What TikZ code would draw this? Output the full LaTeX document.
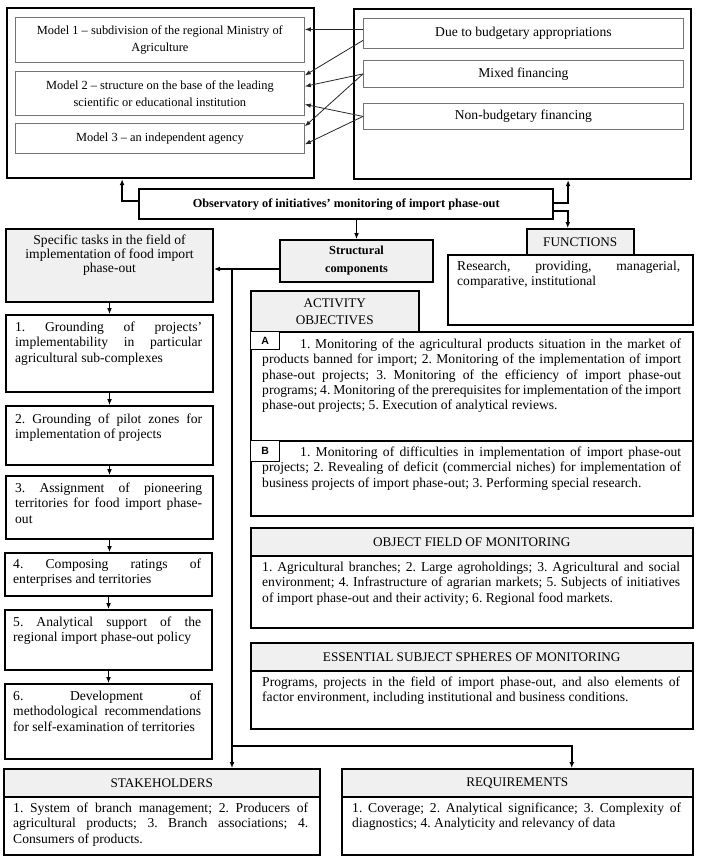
\documentclass[tikz,border=0pt]{standalone}
\usepackage{fontspec}
\setmainfont{Liberation Serif}
\newfontfamily\labfont{Liberation Sans}
\usetikzlibrary{arrows.meta}
\frenchspacing
\definecolor{hgray}{RGB}{240,240,240}
\newcommand\bodyf{\fontsize{13.6}{15.2}\selectfont\frenchspacing\parindent=0pt\hyphenpenalty=10000\exhyphenpenalty=10000\relax}
\newcommand\thf{\fontsize{13.6}{13.7}\selectfont}
\newcommand\hdrf{\fontsize{13.2}{17}\selectfont}
\newcommand\modf{\fontsize{12.4}{17}\selectfont}
\newcommand\finf{\fontsize{13.6}{15}\selectfont}
\newcommand\obsf{\fontsize{12.3}{14}\selectfont\bfseries}
\newcommand\stf{\fontsize{12.3}{18}\selectfont\bfseries}
\newcommand\labf{\labfont\bfseries\fontsize{10.5}{12}\selectfont}
\tikzset{
 box/.style={draw=black, line width=1.5pt, inner sep=0pt, anchor=north west},
 bigbox/.style={box, line width=2.2pt},
 thinbox/.style={box, draw=black!55, line width=0.8pt},
 hdrbox/.style={box, fill=hgray, font=\hdrf, align=center},
 bodytext/.style={inner sep=0pt, anchor=north west, align=justify, font=\bodyf},
 conn/.style={line width=1.8pt, -{Latex[length=6pt,width=5pt]}},
 finarrow/.style={line width=0.8pt, draw=black!85, -{Latex[length=6pt,width=4.5pt]}},
}
\begin{document}
\begin{tikzpicture}[x=1pt,y=-1pt]
\useasboundingbox (0,0) rectangle (701,863);

% ---- top left: models
\node[bigbox, minimum width=307pt, minimum height=170pt] (leftbig) at (6,7) {};
\node[thinbox, minimum width=289pt, minimum height=45pt, font=\modf, align=center] (m1) at (15,17) {Model 1 – subdivision of the regional Ministry of\\Agriculture};
\node[thinbox, minimum width=289pt, minimum height=44pt, font=\modf, align=center] (m2) at (15,71) {Model 2 – structure on the base of the leading\\scientific or educational institution};
\node[thinbox, minimum width=289pt, minimum height=30pt, font=\modf, align=center] (m3) at (15,123) {Model 3 – an independent agency};

% ---- top right: financing
\node[bigbox, minimum width=337pt, minimum height=170pt] (rightbig) at (353,8) {};
\node[thinbox, minimum width=320pt, minimum height=30pt, font=\finf] (f1) at (363,18) {Due to budgetary appropriations};
\node[thinbox, minimum width=320pt, minimum height=27pt, font=\finf] (f2) at (363,60) {Mixed financing};
\node[thinbox, minimum width=320pt, minimum height=26pt, font=\finf] (f3) at (363,103) {Non-budgetary financing};

\draw[finarrow] ([yshift=4pt]f1.west) -- ([yshift=10.5pt]m1.east);
\draw[finarrow] ([yshift=-7pt]f1.west) -- ([yshift=18pt]m2.east);
\draw[finarrow] (f2.west) -- ([yshift=7pt]m2.east);
\draw[finarrow] (f2.west) -- ([yshift=12pt]m3.east);
\draw[finarrow] (f3.west) -- ([yshift=-11pt]m2.east);
\draw[finarrow] (f3.west) -- ([yshift=-6pt]m3.east);

% ---- observatory
\node[box, line width=2.4pt, minimum width=414pt, minimum height=30pt, font=\obsf] (obs) at (138,188) {Observatory of initiatives’ monitoring of import phase-out};

% ---- structural components
\node[box, line width=2pt, fill=hgray, minimum width=153pt, minimum height=42pt, font=\stf, align=center] (struct) at (279,239) {Structural\\components};

% ---- functions
\node[box, minimum width=245pt, minimum height=70pt] (funcB) at (447,254) {};
\node[hdrbox, minimum width=107pt, minimum height=26pt] (funcH) at (526,228) {FUNCTIONS};
\node[bodytext, text width=223pt] (funcT) at ([shift={(10pt,-7pt)}]funcB.north west) {Research, providing, managerial,\linebreak comparative, institutional};

% ---- activity objectives
\node[box, minimum width=442pt, minimum height=109pt] (aBox) at (250,331) {};
\node[box, minimum width=442pt, minimum height=75pt] (bBox) at (250,440) {};
\node[hdrbox, minimum width=168pt, minimum height=41pt] (actH) at (250,290) {ACTIVITY\\OBJECTIVES};
\node[box, line width=1.2pt, fill=white, minimum width=29pt, minimum height=18pt, font=\labf] (aLab) at (250,331) {A};
\node[box, line width=1.2pt, fill=white, minimum width=29pt, minimum height=21pt, font=\labf] (bLab) at (250,440) {B};
\node[bodytext, text width=419pt] (aT) at ([shift={(12pt,-8pt)}]aBox.north west) {\hspace*{38pt}1. Monitoring of the agricultural products situation in the market of\linebreak products banned for import; 2. Monitoring of the implementation of import\linebreak phase-out projects; 3. Monitoring of the efficiency of import phase-out\linebreak programs; 4. Monitoring of the prerequisites for implementation of the import\linebreak phase-out projects; 5. Execution of analytical reviews.};
\node[bodytext, text width=419pt] (bT) at ([shift={(12pt,-7pt)}]bBox.north west) {\hspace*{38pt}1. Monitoring of difficulties in implementation of import phase-out\linebreak projects; 2. Revealing of deficit (commercial niches) for implementation of\linebreak business projects of import phase-out; 3. Performing special research.};

% ---- object field
\node[hdrbox, minimum width=442pt, minimum height=28pt] (ofH) at (250,527) {OBJECT FIELD OF MONITORING};
\node[box, minimum width=442pt, minimum height=72pt] (ofB) at (250,555) {};
\node[bodytext, text width=418pt] (ofT) at ([shift={(12pt,-7pt)}]ofB.north west) {1. Agricultural branches; 2. Large agroholdings; 3. Agricultural and social\linebreak environment; 4. Infrastructure of agrarian markets; 5. Subjects of initiatives\linebreak of import phase-out and their activity; 6. Regional food markets.};

% ---- essential
\node[hdrbox, minimum width=442pt, minimum height=28pt] (esH) at (250,642) {ESSENTIAL SUBJECT SPHERES OF MONITORING};
\node[box, minimum width=442pt, minimum height=58pt] (esB) at (250,670) {};
\node[bodytext, text width=418pt] (esT) at ([shift={(12pt,-7pt)}]esB.north west) {Programs, projects in the field of import phase-out, and also elements of\linebreak factor environment, including institutional and business conditions.};

% ---- specific tasks
\node[box, line width=2pt, fill=hgray, minimum width=207pt, minimum height=73pt] (tasksH) at (5,228) {};
\node[inner sep=0pt, anchor=north, font=\thf, align=center] (tasksT) at ([yshift=-7pt]tasksH.north) {Specific tasks in the field of\\implementation of food import\\phase-out};
\node[box, line width=2pt, minimum width=207pt, minimum height=77pt] (t1) at (5,314) {};
\node[box, line width=2pt, minimum width=207pt, minimum height=59pt] (t2) at (5,405) {};
\node[box, line width=2pt, minimum width=207pt, minimum height=63pt] (t3) at (5,475) {};
\node[box, line width=2pt, minimum width=207pt, minimum height=43pt] (t4) at (4,552) {};
\node[box, line width=2pt, minimum width=207pt, minimum height=60pt] (t5) at (4,609) {};
\node[box, line width=2pt, minimum width=207pt, minimum height=75pt] (t6) at (4,683) {};
\node[bodytext, text width=187pt] (t1T) at ([shift={(10pt,-8pt)}]t1.north west) {1. Grounding of projects’\linebreak implementability in particular\linebreak agricultural sub-complexes};
\node[bodytext, text width=187pt] (t2T) at ([shift={(10pt,-9pt)}]t2.north west) {2. Grounding of pilot zones for\linebreak implementation of projects};
\node[bodytext, text width=187pt] (t3T) at ([shift={(10pt,-8pt)}]t3.north west) {3. Assignment of pioneering\linebreak territories for food import phase-\linebreak out};
\node[bodytext, text width=188pt] (t4T) at ([shift={(9pt,-7pt)}]t4.north west) {4. Composing ratings of\linebreak enterprises and territories};
\node[bodytext, text width=188pt] (t5T) at ([shift={(9pt,-8pt)}]t5.north west) {5. Analytical support of the\linebreak regional import phase-out policy};
\node[bodytext, text width=188pt] (t6T) at ([shift={(9pt,-8pt)}]t6.north west) {6. Development of\linebreak methodological recommendations\linebreak for self-examination of territories};

\draw[conn] (tasksH.south) -- (tasksH.south |- t1.north);
\draw[conn] (t1.south) -- (t1.south |- t2.north);
\draw[conn] (t2.south) -- (t2.south |- t3.north);
\draw[conn] (t3.south) -- (t3.south |- t4.north);
\draw[conn] (t4.south) -- (t4.south |- t5.north);
\draw[conn] (t5.south) -- (t5.south |- t6.north);

% ---- stakeholders / requirements
\node[hdrbox, minimum width=316pt, minimum height=28pt] (stH) at (3,768) {STAKEHOLDERS};
\node[box, minimum width=316pt, minimum height=58pt] (stB) at (3,796) {};
\node[bodytext, text width=295pt] (stT) at ([shift={(10pt,-7pt)}]stB.north west) {1. System of branch management; 2. Producers of\linebreak agricultural products; 3. Branch associations; 4.\linebreak Consumers of products.};
\node[hdrbox, minimum width=351pt, minimum height=28pt] (rqH) at (341,768) {REQUIREMENTS};
\node[box, minimum width=351pt, minimum height=58pt] (rqB) at (341,796) {};
\node[bodytext, text width=329pt] (rqT) at ([shift={(11pt,-7pt)}]rqB.north west) {1. Coverage; 2. Analytical significance; 3. Complexity of\linebreak diagnostics; 4. Analyticity and relevancy of data};

% ---- connectors from observatory
\draw[conn] ([yshift=3pt]obs.west) -| ([xshift=-38.5pt]leftbig.south);
\draw[conn] ([yshift=1pt]obs.east) -| ([xshift=45.5pt]rightbig.south);
\draw[conn] ([yshift=-7pt]obs.east) -| ([xshift=-12.5pt]funcH.north);
\draw[conn] (struct.north |- obs.south) -- (struct.north);

% ---- connectors from structural components
\coordinate (sw) at ([yshift=-8pt]struct.west);
\coordinate (bj) at (232,268);
\coordinate (bk) at (232,746);
\draw[conn] (sw) -- (sw -| tasksH.east);
\draw[conn] (bj) -- (bj |- stH.north);
\draw[conn] (bk) -| ([xshift=54.5pt]rqH.north);
\end{tikzpicture}
\end{document}
